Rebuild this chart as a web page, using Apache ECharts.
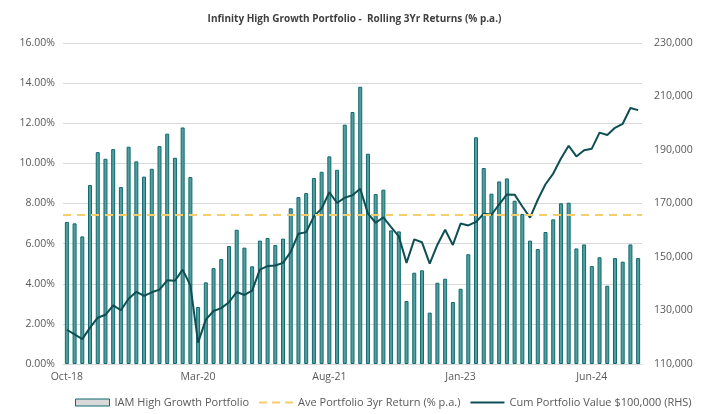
<!DOCTYPE html>
<html>
<head>
    <meta charset="UTF-8">
    <title>Infinity High Growth Portfolio</title>
    <style>
        html, body { margin: 0; padding: 0; background: #fff; }
    </style>
</head>
<body>
<div id="chart" style="width: 709px;height: 414px;"></div>
<script src="https://cdn.jsdelivr.net/npm/echarts@6/dist/echarts.min.js"></script>
<script>
    // month labels Oct-18 .. Dec-24
    var monthNames = ['Jan','Feb','Mar','Apr','May','Jun','Jul','Aug','Sep','Oct','Nov','Dec'];
    var months = [];
    for (var i = 0; i < 75; i++) {
        var m = (9 + i) % 12;
        var y = 18 + Math.floor((9 + i) / 12);
        months.push(monthNames[m] + '-' + y);
    }

    // rolling 3yr return (% p.a.)
    var rolling3yr = [
        7.08, 7.01, 6.36, 8.92, 10.56, 10.23, 10.71, 8.82, 10.83, 10.10,
        9.34, 9.73, 10.86, 11.48, 10.28, 11.79, 9.32, 2.84, 4.07, 4.78,
        5.23, 5.88, 6.69, 5.80, 4.87, 6.15, 6.28, 5.93, 6.25, 7.76,
        8.32, 8.52, 9.27, 9.58, 10.35, 9.68, 11.93, 12.56, 13.82, 10.48,
        8.47, 8.69, 6.66, 6.61, 3.14, 4.55, 4.67, 2.56, 4.05, 4.25,
        3.09, 3.75, 5.47, 11.30, 9.77, 8.49, 9.10, 9.25, 8.14, 7.48,
        6.15, 5.73, 6.58, 7.21, 8.01, 8.04, 5.76, 5.96, 4.88, 5.32,
        3.90, 5.28, 5.10, 5.96, 5.28
    ];

    // cumulative value of $100,000 (RHS)
    var cumValue = [
        122800, 121100, 119300, 123600, 127300, 128400, 131900, 130100, 134400, 137000,
        135500, 136800, 137800, 141300, 141100, 145300, 139400, 118000, 126600, 129800,
        130900, 133100, 136900, 135800, 137400, 145300, 146600, 146800, 147800, 151900,
        158700, 159300, 165200, 168100, 174200, 170200, 172200, 173100, 175500, 166200,
        162800, 164800, 161200, 157700, 147800, 156600, 155500, 147500, 154600, 160200,
        154500, 162500, 161800, 163100, 166200, 165800, 169700, 173400, 173300, 168900,
        164700, 171400, 177200, 181200, 186800, 191600, 187600, 189900, 190500, 196500,
        195600, 198300, 199800, 205700, 204900
    ];

    var aveReturn = 7.45;

    var barName = 'IAM High Growth Portfolio';
    var aveName = 'Ave Portfolio 3yr Return (% p.a.)';
    var cumName = 'Cum Portfolio Value $100,000 (RHS)';

    var font = 'Open Sans';
    var chart = echarts.init(document.getElementById('chart'));

    var option = {
        animation: false,
        textStyle: { fontFamily: font },
        title: {
            text: 'Infinity High Growth Portfolio -  Rolling 3Yr Returns (% p.a.)',
            left: 'center',
            top: 9,
            textStyle: { fontSize: 10, fontWeight: 'bold', color: '#404040', fontFamily: font }
        },
        legend: {
            bottom: 1,
            left: 70,
            itemWidth: 34,
            itemHeight: 7,
            itemGap: 10,
            textStyle: { fontSize: 11, color: '#595959', fontFamily: font },
            data: [
                { name: barName, icon: 'rect', itemStyle: { color: '#d9d9d9', borderColor: '#0f6b6e', borderWidth: 1 } },
                { name: aveName, icon: 'path://M0,0h8v2h-8zM13,0h8v2h-8zM26,0h8v2h-8z',
                  itemStyle: { color: '#f5cd6a', borderWidth: 0 } },
                { name: cumName, icon: 'path://M0,0h34v2h-34z',
                  itemStyle: { color: '#0d4f52', borderWidth: 0 } }
            ]
        },
        grid: { left: 63, right: 67, top: 43, bottom: 50 },
        xAxis: {
            type: 'category',
            data: months,
            axisTick: { show: false },
            axisLine: { lineStyle: { color: '#d9d9d9', width: 1 } },
            axisLabel: { interval: 16, color: '#595959', fontSize: 10.5, margin: 8 }
        },
        yAxis: [
            {
                type: 'value',
                min: 0, max: 16, interval: 2,
                axisLabel: {
                    color: '#595959', fontSize: 10.5, margin: 8,
                    formatter: function (v) { return v.toFixed(2) + '%'; }
                },
                splitLine: { lineStyle: { color: '#d9d9d9', width: 1 } },
                axisLine: { show: false },
                axisTick: { show: false }
            },
            {
                type: 'value',
                min: 110000, max: 230000, interval: 20000,
                axisLabel: {
                    color: '#595959', fontSize: 10.5, margin: 12,
                    formatter: function (v) { return v.toLocaleString('en-US'); }
                },
                splitLine: { show: false },
                axisLine: { show: false },
                axisTick: { show: false }
            }
        ],
        series: [
            {
                name: barName,
                type: 'bar',
                data: rolling3yr,
                barWidth: 4,
                itemStyle: { color: '#569e9e', borderColor: '#0f6b6e', borderWidth: 1 }
            },
            {
                name: aveName,
                type: 'line',
                data: [],
                symbol: 'none',
                lineStyle: { color: '#f5cd6a', type: [7, 5], width: 2 },
                itemStyle: { color: '#f5cd6a' },
                markLine: {
                    silent: true,
                    symbol: 'none',
                    label: { show: false },
                    lineStyle: { color: '#f5cd6a', type: [8, 6], width: 2 },
                    data: [{ yAxis: aveReturn }]
                }
            },
            {
                name: cumName,
                type: 'line',
                yAxisIndex: 1,
                data: cumValue,
                symbol: 'none',
                lineStyle: { color: '#0d4f52', width: 2 },
                itemStyle: { color: '#0d4f52' }
            }
        ]
    };
    chart.setOption(option);
</script>
</body>
</html>
